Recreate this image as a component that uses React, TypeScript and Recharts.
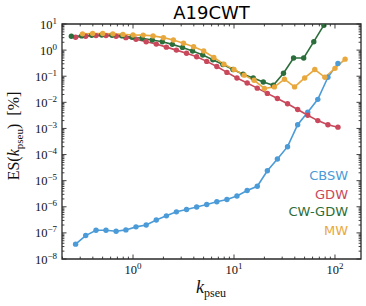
import React from 'react';
import { LineChart, Line, XAxis, YAxis, ReferenceArea } from 'recharts';

const W = 366;
const H = 306;

// ---------- data ----------
const cbswK = [0.27, 0.34, 0.43, 0.54, 0.68, 0.85, 1.07, 1.35, 1.7, 2.14, 2.69, 3.39, 4.27, 5.37, 6.76, 8.51, 10.7, 13.5, 17.0, 21.4, 26.9, 33.9, 42.7, 53.7, 67.6, 85.1, 107];
const cbswES = [3.7e-8, 7.9e-8, 1.27e-7, 1.27e-7, 1.16e-7, 1.3e-7, 1.7e-7, 2.0e-7, 3.1e-7, 4.5e-7, 6.4e-7, 7.9e-7, 9.8e-7, 1.23e-6, 1.55e-6, 1.9e-6, 2.6e-6, 4.2e-6, 6.1e-6, 2.4e-5, 6.8e-5, 2.0e-4, 1.39e-3, 4.2e-3, 1.3e-2, 9.1e-2, 0.31];

const gdwK = [0.27, 0.34, 0.43, 0.54, 0.68, 0.85, 1.07, 1.35, 1.7, 2.14, 2.69, 3.39, 4.27, 5.37, 6.76, 8.51, 10.7, 13.5, 17.0, 21.4, 26.9, 33.9, 42.7, 53.7, 67.6, 85.1, 107];
const gdwES = [3.1, 3.4, 3.6, 3.6, 3.4, 3.0, 2.6, 2.1, 1.7, 1.3, 1.0, 0.76, 0.56, 0.37, 0.235, 0.14, 0.085, 0.055, 0.035, 0.022, 0.014, 0.0088, 0.0053, 0.0032, 0.002, 0.00138, 0.00112];

const cwgdwK = [0.245, 0.31, 0.39, 0.49, 0.62, 0.78, 0.98, 1.23, 1.55, 1.95, 2.45, 3.09, 3.89, 4.9, 6.17, 7.76, 9.77, 12.3, 15.5, 19.5, 24.5, 30.9, 38.9, 49.0, 61.7, 77.6];
const cwgdwES = [3.4, 3.5, 3.7, 3.8, 3.7, 3.5, 3.1, 2.85, 2.45, 2.1, 1.66, 1.27, 0.92, 0.65, 0.43, 0.28, 0.18, 0.12, 0.086, 0.06, 0.045, 0.13, 0.5, 0.5, 2.1, 9.0];

const mwK = [0.316, 0.398, 0.501, 0.631, 0.794, 1.0, 1.26, 1.58, 2.0, 2.51, 3.16, 3.98, 5.01, 6.31, 7.94, 10.0, 12.6, 15.8, 20.0, 25.1, 31.6, 39.8, 50.1, 63.1, 79.4, 100, 126];
const mwES = [4.2, 4.35, 4.35, 4.2, 4.0, 3.8, 3.75, 3.5, 3.0, 2.45, 1.85, 1.35, 0.92, 0.52, 0.29, 0.18, 0.11, 0.07, 0.034, 0.039, 0.077, 0.039, 0.086, 0.18, 0.091, 0.2, 0.45];

const seriesNames = ['CBSW', 'GDW', 'CW-GDW', 'MW'];
const seriesColors = ['#4a9bd8', '#c9485b', '#2b6e3b', '#e9a83d'];

const xMajorTicks = [1, 10, 100];
const yMajorTicks = [1e-8, 1e-7, 1e-6, 1e-5, 1e-4, 1e-3, 1e-2, 1e-1, 1, 10];
const xDomain = [0.198, 181];
const yDomain = [1e-8, 10];

// minor ticks (2..9 x 10^n) for the log axes
const minorsFor = (majors: number[], lo: number, hi: number) => {
  const out: number[] = [];
  const decades = [...majors.map((m) => m / 10), ...majors];
  decades.forEach((d) => {
    for (let m = 2; m <= 9; m++) {
      const v = d * m;
      if (v > lo && v < hi && !out.some((o) => Math.abs(o - v) / v < 1e-9)) out.push(v);
    }
  });
  return out;
};
const xTicks = [...minorsFor(xMajorTicks, xDomain[0], xDomain[1]), ...xMajorTicks].sort((a, b) => a - b);
const yTicks = [...minorsFor(yMajorTicks, yDomain[0], yDomain[1]), ...yMajorTicks].sort((a, b) => a - b);

const zip = (xs: number[], ys: number[]) => xs.map((x, i) => ({ x, y: ys[i] }));
const seriesData = [zip(cbswK, cbswES), zip(gdwK, gdwES), zip(cwgdwK, cwgdwES), zip(mwK, mwES)];

// ---------- layout ----------
const M = { top: 24, right: 5, left: 62, bottom: 47 };
const AX = '#2a2a2a';
const MAJ = 4.5;
const MIN = 2.4;
const SERIF = '"Liberation Serif", "DejaVu Serif", serif';
const SANS = '"DejaVu Sans", sans-serif';

const isMajor = (v: number) => Math.abs(Math.log10(v) - Math.round(Math.log10(v))) < 1e-6;
const expOf = (v: number) => {
  const e = Math.round(Math.log10(v));
  return e < 0 ? '\u2212' + Math.abs(e) : String(e);
};

const XTick = (p: any) => {
  const { x, y, payload } = p;
  const v = payload.value;
  const major = isMajor(v);
  const len = major ? MAJ : MIN;
  const top = M.top;
  return (
    <g>
      <line x1={x} x2={x} y1={y} y2={y - len} stroke={AX} strokeWidth={0.9} />
      <line x1={x} x2={x} y1={top} y2={top + len} stroke={AX} strokeWidth={0.9} />
      {major && (
        <text x={x} y={y + 15} textAnchor="middle" fontFamily={SERIF} fontSize={12.5} fill="#111">
          <tspan>10</tspan>
          <tspan dy={-5} fontSize={9}>{expOf(v)}</tspan>
        </text>
      )}
    </g>
  );
};

const YTick = (p: any) => {
  const { x, y, payload } = p;
  const v = payload.value;
  const major = isMajor(v);
  const len = major ? MAJ : MIN;
  const right = W - M.right;
  return (
    <g>
      <line x1={x} x2={x + len} y1={y} y2={y} stroke={AX} strokeWidth={0.9} />
      <line x1={right} x2={right - len} y1={y} y2={y} stroke={AX} strokeWidth={0.9} />
      {major && (
        <text x={x - 5} y={y + 4.5} textAnchor="end" fontFamily={SERIF} fontSize={12.5} fill="#111">
          <tspan>10</tspan>
          <tspan dy={-5} fontSize={9}>{expOf(v)}</tspan>
        </text>
      )}
    </g>
  );
};

export default function App() {
  const legendY = [175, 193.5, 211, 229.5];
  return (
    <div style={{ position: 'absolute', left: 0, top: 0, width: W, height: H, background: '#fff' }}>
      <LineChart width={W} height={H} data={seriesData[0]} margin={{ top: M.top, right: M.right, bottom: 0, left: 0 }}>
        <XAxis
          dataKey="x"
          type="number"
          scale="log"
          domain={xDomain}
          allowDataOverflow
          ticks={xTicks}
          interval={0}
          height={M.bottom}
          axisLine={false}
          tickLine={false}
          tickSize={0}
          tickMargin={0}
          tick={<XTick />}
        />
        <YAxis
          dataKey="y"
          type="number"
          scale="log"
          domain={yDomain}
          allowDataOverflow
          ticks={yTicks}
          interval={0}
          width={M.left}
          axisLine={false}
          tickLine={false}
          tickSize={0}
          tickMargin={0}
          tick={<YTick />}
        />
        <ReferenceArea x1={xDomain[0]} x2={xDomain[1]} y1={yDomain[0]} y2={yDomain[1]} fill="none" stroke={AX} strokeWidth={1.3} ifOverflow="visible" />
        {seriesData.map((d, i) => (
          <Line
            key={seriesNames[i]}
            data={d}
            dataKey="y"
            name={seriesNames[i]}
            stroke={seriesColors[i]}
            strokeWidth={1.6}
            dot={{ r: 2.7, fill: seriesColors[i], stroke: seriesColors[i], strokeWidth: 0 }}
            isAnimationActive={false}
          />
        ))}
      </LineChart>
      <div style={{ position: 'absolute', left: 211.5, top: 13, transform: 'translate(-50%,-50%)', fontFamily: SANS, fontSize: 18, whiteSpace: 'nowrap', color: '#000', lineHeight: 1 }}>
        A19CWT
      </div>
      {seriesNames.map((n, i) => (
        <div key={n} style={{ position: 'absolute', right: W - 348, top: legendY[i], transform: 'translateY(-50%)', fontFamily: SANS, fontSize: 13, color: seriesColors[i], lineHeight: 1, whiteSpace: 'nowrap' }}>
          {n}
        </div>
      ))}
      <div style={{ position: 'absolute', left: 14, top: 136, transform: 'translate(-50%,-50%) rotate(-90deg)', fontFamily: SERIF, fontSize: 16, whiteSpace: 'nowrap', lineHeight: 1, color: '#111' }}>
        ES(<i>k</i><span style={{ fontSize: 11, position: 'relative', top: 4 }}>pseu</span>)&nbsp;&nbsp;[%]
      </div>
      <div style={{ position: 'absolute', left: 211, top: 287, transform: 'translate(-50%,-50%)', fontFamily: SERIF, fontSize: 18, whiteSpace: 'nowrap', lineHeight: 1, color: '#111' }}>
        <i>k</i><span style={{ fontSize: 12, position: 'relative', top: 4 }}>pseu</span>
      </div>
    </div>
  );
}
